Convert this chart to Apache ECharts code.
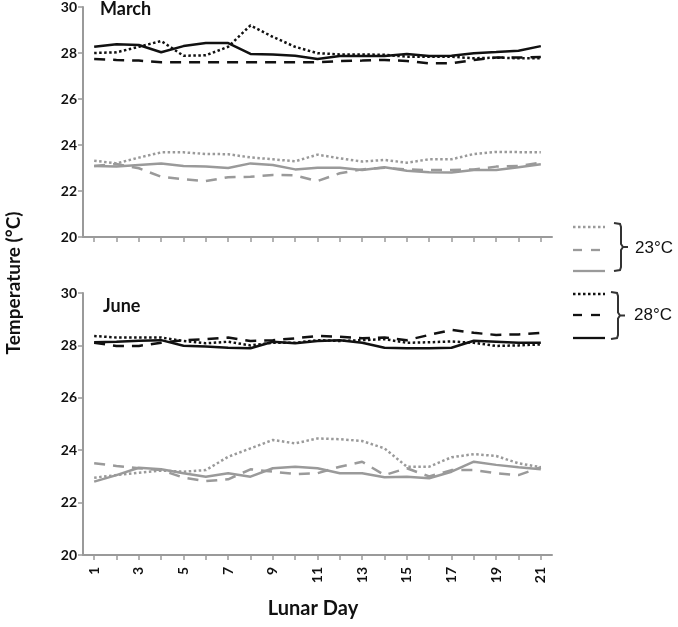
<!DOCTYPE html>
<html>
<head>
<meta charset="utf-8">
<script src="https://cdn.jsdelivr.net/npm/echarts@6/dist/echarts.min.js"></script>
<style>html,body{margin:0;padding:0;background:#fff}#c{width:678px;height:627px}</style>
</head>
<body>
<div id="c"></div>
<script>
const days = ['1','2','3','4','5','6','7','8','9','10','11','12','13','14','15','16','17','18','19','20','21'];
const yTicks = [20, 22, 24, 26, 28, 30];

// March
const mar28Dot  = [28.0,28.03,28.27,28.52,27.88,27.9,28.27,29.2,28.7,28.27,27.99,27.94,27.94,27.92,27.84,27.84,27.84,27.77,27.8,27.77,27.77];
const mar28Dash = [27.74,27.7,27.67,27.6,27.6,27.6,27.6,27.6,27.6,27.6,27.6,27.65,27.67,27.7,27.65,27.55,27.55,27.7,27.8,27.8,27.83];
const mar28Sol  = [28.27,28.38,28.35,28.03,28.3,28.43,28.43,27.96,27.93,27.88,27.74,27.87,27.87,27.87,27.96,27.87,27.88,27.99,28.04,28.1,28.3];
const mar23Dot  = [23.32,23.2,23.45,23.68,23.68,23.61,23.6,23.46,23.38,23.29,23.58,23.42,23.28,23.35,23.23,23.38,23.38,23.61,23.7,23.69,23.69];
const mar23Dash = [23.09,23.17,22.99,22.62,22.51,22.43,22.6,22.62,22.7,22.68,22.43,22.77,22.94,23.01,22.94,22.91,22.91,22.94,23.06,23.09,23.23];
const mar23Sol  = [23.09,23.06,23.13,23.2,23.09,23.06,23.0,23.2,23.13,22.94,23.01,23.01,22.91,23.03,22.88,22.81,22.8,22.91,22.91,23.03,23.16];

// June
const jun28Dot  = [28.36,28.3,28.3,28.3,28.17,28.08,28.14,28.0,28.1,28.1,28.2,28.17,28.2,28.24,28.1,28.12,28.15,28.1,27.98,28.0,28.04];
const jun28Dash = [28.1,27.98,27.98,28.1,28.2,28.24,28.3,28.17,28.2,28.27,28.36,28.33,28.27,28.3,28.2,28.4,28.59,28.48,28.4,28.42,28.48];
const jun28Sol  = [28.12,28.14,28.18,28.2,27.99,27.96,27.91,27.89,28.14,28.08,28.17,28.2,28.1,27.91,27.89,27.89,27.91,28.18,28.14,28.1,28.1];
const jun23Dot  = [22.95,23.05,23.14,23.22,23.18,23.24,23.75,24.07,24.39,24.26,24.45,24.42,24.35,24.07,23.37,23.37,23.73,23.85,23.78,23.5,23.35];
const jun23Dash = [23.5,23.4,23.31,23.24,22.95,22.82,22.89,23.27,23.18,23.09,23.12,23.37,23.56,23.05,23.31,23.0,23.24,23.24,23.12,23.05,23.35];
const jun23Sol  = [22.8,23.05,23.33,23.27,23.12,22.99,23.12,22.99,23.31,23.37,23.31,23.12,23.12,22.97,22.99,22.93,23.18,23.56,23.44,23.35,23.27];

const BLACK = '#111111', GRAY = '#9a9a9a', AXIS = '#9a9a9a';
const DOT = [2.5, 2.5], DASH = [11, 8];
const FONT = 'Lato';

function line(data, xi, color, type) {
  return {
    type: 'line', xAxisIndex: xi, yAxisIndex: xi, data: data,
    symbol: 'none', silent: true, animation: false,
    lineStyle: { color: color, width: 2.5, type: type }
  };
}

function xAx(gi, showLabels) {
  return {
    type: 'category', gridIndex: gi, data: days, boundaryGap: true,
    axisLine: { lineStyle: { color: AXIS, width: 2 } },
    axisTick: { show: true, alignWithLabel: true, interval: 0, length: 5, lineStyle: { color: AXIS, width: 1.5 } },
    axisLabel: { show: showLabels, interval: 1, rotate: 90, margin: 12, color: '#111', fontFamily: FONT, fontWeight: 'bold', fontSize: 14 },
    splitLine: { show: false }
  };
}
function yAx(gi) {
  return {
    type: 'value', gridIndex: gi, min: yTicks[0], max: yTicks[yTicks.length - 1], interval: 2,
    axisLine: { show: true, lineStyle: { color: AXIS, width: 2 } },
    axisTick: { show: true, length: 5, lineStyle: { color: AXIS, width: 1.5 } },
    axisLabel: { color: '#111', fontFamily: FONT, fontWeight: 'bold', fontSize: 14, margin: 6 },
    splitLine: { show: false }
  };
}

function legendLine(x1, x2, y, color, dash) {
  return { type: 'line', shape: { x1: x1, y1: y, x2: x2, y2: y }, style: { stroke: color, lineWidth: 2.3, lineDash: dash } };
}
function bracket(x, y1, y2) {
  const ym = (y1 + y2) / 2;
  return { type: 'polyline', shape: { points: [[x - 6, y1], [x, y1 + 1], [x + 1, y1 + 4], [x + 1, ym - 3], [x + 3, ym], [x + 8, ym], [x + 3, ym], [x + 1, ym + 3], [x + 1, y2 - 4], [x, y2 - 1], [x - 6, y2]] }, style: { stroke: '#333', lineWidth: 2, fill: null } };
}

const chart = echarts.init(document.getElementById('c'), null, { renderer: 'canvas' });
chart.setOption({
  animation: false,
  backgroundColor: '#fff',
  grid: [
    { left: 83, top: 7, width: 469, height: 230 },
    { left: 83, top: 293, width: 469, height: 262 }
  ],
  xAxis: [xAx(0, false), xAx(1, true)],
  yAxis: [yAx(0), yAx(1)],
  series: [
    line(mar23Dot, 0, GRAY, DOT), line(mar23Dash, 0, GRAY, DASH), line(mar23Sol, 0, GRAY, 'solid'),
    line(mar28Dot, 0, BLACK, DOT), line(mar28Dash, 0, BLACK, DASH), line(mar28Sol, 0, BLACK, 'solid'),
    line(jun23Dot, 1, GRAY, DOT), line(jun23Dash, 1, GRAY, DASH), line(jun23Sol, 1, GRAY, 'solid'),
    line(jun28Dot, 1, BLACK, DOT), line(jun28Dash, 1, BLACK, DASH), line(jun28Sol, 1, BLACK, 'solid')
  ],
  graphic: [
    { type: 'text', left: 100, top: 0, style: { text: 'March', font: 'bold 18px ' + FONT, fill: '#111' } },
    { type: 'text', left: 103, top: 297, style: { text: 'June', font: 'bold 18px ' + FONT, fill: '#111' } },
    { type: 'text', x: 14, y: 283, rotation: Math.PI / 2, style: { text: 'Temperature (°C)', font: 'bold 19px ' + FONT, fill: '#111', align: 'center', verticalAlign: 'middle' } },
    { type: 'text', x: 313, y: 609, style: { text: 'Lunar Day', font: 'bold 20px ' + FONT, fill: '#111', align: 'center', verticalAlign: 'middle' } },
    legendLine(573, 605, 227, GRAY, [2.5, 2.5]),
    legendLine(573, 605, 250, GRAY, [9, 9]),
    legendLine(573, 605, 271, GRAY, null),
    bracket(620, 223, 271),
    { type: 'text', x: 635, y: 248, style: { text: '23°C', font: '17px "Liberation Sans"', fill: '#111', verticalAlign: 'middle' } },
    legendLine(573, 605, 294, BLACK, [2.5, 2.5]),
    legendLine(573, 605, 315, BLACK, [9, 9]),
    legendLine(573, 605, 338, BLACK, null),
    bracket(617, 292, 339),
    { type: 'text', x: 634, y: 315, style: { text: '28°C', font: '17px "Liberation Sans"', fill: '#111', verticalAlign: 'middle' } }
  ]
});
</script>
</body>
</html>
